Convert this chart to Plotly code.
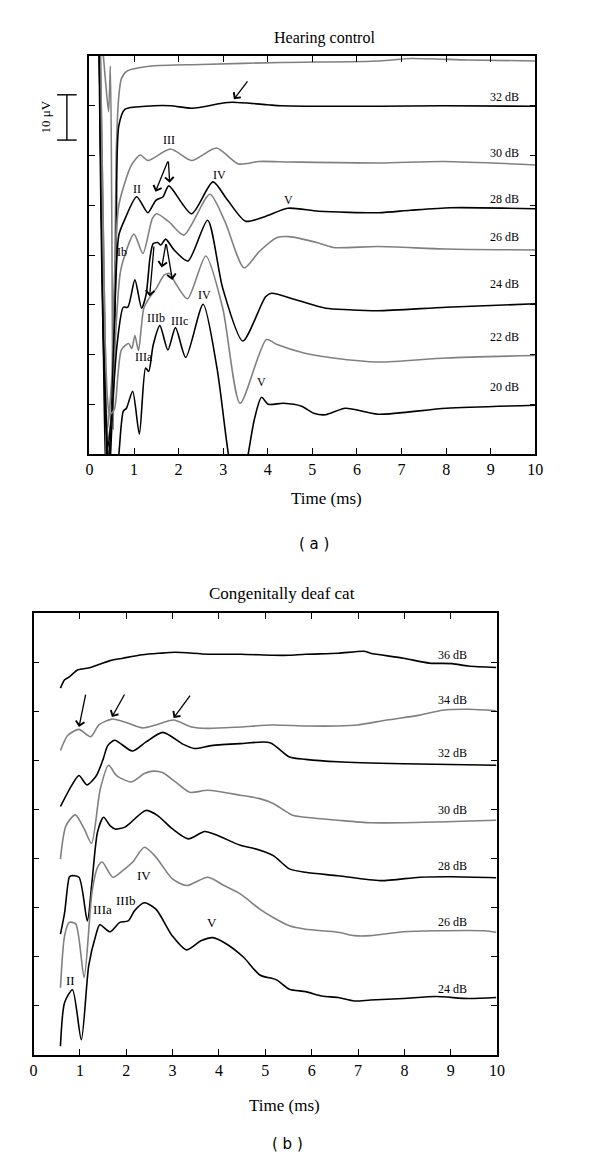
import plotly.graph_objects as go

# ---------------- Panel (a): Hearing control ----------------
hc_top_t = [0.22, 0.36, 0.43, 0.47, 0.50, 0.53, 0.56, 0.60, 0.66, 0.72, 0.85, 1.4, 2.5, 4.3, 6.5, 7.2, 8.5, 10]
hc_top_v = [9.0, 7.5, 6.88, 7.8, 5.0, 0.5, 2.5, 6.0, 7.2, 7.55, 7.7, 7.8, 7.83, 7.87, 7.9, 7.95, 7.92, 7.9]

hc32_t = [0.2, 0.3, 0.42, 0.52, 0.6, 0.66, 0.8, 1.27, 1.82, 2.3, 2.97, 3.2, 4.0, 4.3, 6.5, 7.95, 10]
hc32_v = [9.5, 4.0, -0.8, 1.0, 4.13, 6.6, 6.93, 6.99, 7.0, 6.95, 7.05, 7.07, 7.02, 7.0, 6.99, 7.0, 6.99]

hc30_t = [0.22, 0.32, 0.4, 0.5, 0.56, 0.66, 0.94, 1.14, 1.31, 1.82, 2.29, 2.85, 3.34, 3.8, 4.5, 6.5, 7.95, 10]
hc30_v = [9.5, 4.0, 0.5, 1.5, 3.5, 5.0, 5.8, 6.01, 5.9, 6.13, 5.9, 6.15, 5.83, 5.88, 5.87, 5.85, 5.88, 5.81]

hc28_t = [0.2, 0.3, 0.38, 0.48, 0.56, 0.66, 0.8, 1.06, 1.31, 1.49, 1.65, 1.78, 2.29, 2.77, 3.1, 3.5, 3.93, 4.45, 5.14, 6.49, 7.2, 8.1, 10]
hc28_v = [9.5, 3.0, -0.6, 0.5, 2.6, 4.4, 4.73, 5.17, 4.85, 5.1, 5.17, 5.39, 4.83, 5.47, 5.1, 4.68, 4.77, 4.94, 4.88, 4.85, 4.9, 4.95, 4.93]

hc26_t = [0.22, 0.33, 0.42, 0.52, 0.6, 0.71, 1.0, 1.2, 1.41, 1.51, 1.78, 2.12, 2.7, 3.04, 3.47, 3.81, 4.21, 4.47, 5.14, 5.47, 6.47, 8, 10]
hc26_v = [9.5, 3.5, 0.3, 1.0, 2.6, 3.73, 4.42, 4.03, 4.73, 4.83, 4.67, 4.4, 5.22, 4.67, 3.74, 4.07, 4.35, 4.37, 4.24, 4.15, 4.17, 4.12, 4.1]

hc24_t = [0.2, 0.3, 0.41, 0.5, 0.62, 0.76, 0.86, 1.02, 1.17, 1.27, 1.36, 1.43, 1.53, 1.6, 1.71, 1.9, 2.21, 2.65, 2.99, 3.44, 3.95, 4.08, 4.63, 5.3, 5.81, 6.47, 8, 10]
hc24_v = [9.5, 3.0, 0.12, 0.8, 2.2, 2.95, 2.95, 3.5, 2.93, 3.2, 3.95, 4.23, 4.25, 4.2, 4.32, 4.1, 3.88, 4.7, 3.33, 2.27, 3.16, 3.23, 3.1, 2.93, 2.9, 2.88, 2.95, 3.02]

hc22_t = [0.22, 0.33, 0.46, 0.56, 0.64, 0.72, 0.88, 0.95, 1.02, 1.1, 1.22, 1.36, 1.5, 1.68, 1.8, 1.92, 2.2, 2.61, 2.99, 3.38, 3.97, 4.21, 4.81, 5.47, 6.47, 8, 10]
hc22_v = [9.5, 3.0, 0.8, 0.9, 1.6, 2.1, 2.22, 2.12, 2.38, 2.08, 2.93, 3.16, 3.33, 3.6, 3.63, 3.45, 3.12, 3.98, 2.93, 1.02, 2.3, 2.2, 2.03, 1.93, 1.85, 1.93, 1.98]

hc20_t = [0.2, 0.32, 0.5, 0.65, 0.76, 0.83, 0.97, 1.12, 1.26, 1.33, 1.43, 1.58, 1.76, 1.93, 2.16, 2.55, 2.86, 3.1, 3.3, 3.52, 3.7, 3.86, 4.01, 4.35, 4.76, 5.03, 5.3, 5.74, 6.47, 8, 10]
hc20_v = [9.5, 2.0, -1.0, -0.1, 0.86, 0.92, 1.26, 0.4, 1.73, 1.66, 2.19, 2.58, 2.09, 2.54, 1.94, 3.01, 1.73, 0.1, -1.0, -0.2, 0.7, 1.14, 1.0, 1.02, 0.96, 0.82, 0.79, 0.92, 0.8, 0.92, 0.98]

hc_levels = ["32 dB", "30 dB", "28 dB", "26 dB", "24 dB", "22 dB", "20 dB"]
hc_level_v = [7.18, 6.05, 5.12, 4.36, 3.42, 2.35, 1.35]

hc_peaks = ["III", "II", "IV", "V", "Ib", "IIIb", "IIIc", "IV", "IIIa", "V"]
hc_peak_t = [1.78, 1.06, 2.92, 4.46, 0.74, 1.49, 2.03, 2.57, 1.22, 3.86]
hc_peak_v = [6.31, 5.33, 5.61, 5.10, 4.07, 2.74, 2.68, 3.20, 1.95, 1.45]

# arrows: (tip_t, tip_v, tail_t, tail_v)
hc_arrows = [
    (3.24, 7.13, 3.57, 7.52),
    (1.48, 5.27, 1.77, 5.91),
    (1.80, 5.45, 1.77, 5.91),
    (1.35, 3.17, 1.45, 4.20),
    (1.62, 3.75, 1.72, 4.25),
    (1.86, 3.50, 1.72, 4.25),
]

# ---------------- Panel (b): Congenitally deaf cat ----------------
dc36_t = [0.58, 0.67, 0.77, 0.95, 1.23, 1.65, 1.93, 2.35, 2.71, 3.06, 3.76, 4.46, 5.17, 5.52, 5.87, 6.57, 7.13, 7.27, 7.98, 8.54, 9.03, 9.38, 9.98]
dc36_v = [7.47, 7.64, 7.7, 7.84, 7.89, 8.03, 8.08, 8.15, 8.18, 8.2, 8.16, 8.16, 8.14, 8.14, 8.16, 8.18, 8.22, 8.18, 8.08, 7.98, 7.97, 7.92, 7.89]

dc34_t = [0.58, 0.74, 0.98, 1.23, 1.41, 1.69, 2.0, 2.35, 2.64, 3.02, 3.41, 3.76, 4.46, 5.17, 5.87, 6.57, 6.99, 7.62, 8.33, 8.82, 9.38, 9.98]
dc34_v = [6.2, 6.51, 6.63, 6.48, 6.72, 6.84, 6.77, 6.66, 6.72, 6.82, 6.68, 6.65, 6.68, 6.72, 6.7, 6.7, 6.72, 6.82, 6.92, 7.02, 7.04, 7.01]

dc32_t = [0.58, 0.83, 0.98, 1.15, 1.35, 1.5, 1.6, 1.75, 2.13, 2.42, 2.79, 3.22, 3.47, 3.83, 4.46, 5.1, 5.52, 5.87, 6.57, 7.98, 9.98]
dc32_v = [5.06, 5.5, 5.69, 5.5, 5.68, 6.02, 6.3, 6.41, 6.19, 6.37, 6.57, 6.33, 6.24, 6.3, 6.34, 6.36, 6.07, 6.02, 5.97, 5.93, 5.9]

dc30_t = [0.58, 0.7, 0.9, 1.09, 1.25, 1.44, 1.62, 1.79, 2.11, 2.39, 2.57, 2.78, 3.06, 3.37, 3.76, 4.46, 4.88, 5.17, 5.59, 5.87, 6.57, 7.27, 7.98, 9.98]
dc30_v = [3.99, 4.67, 4.89, 4.61, 4.31, 5.42, 5.9, 5.69, 5.56, 5.73, 5.78, 5.75, 5.56, 5.35, 5.39, 5.29, 5.22, 5.12, 4.88, 4.84, 4.78, 4.73, 4.73, 4.78]

dc28_t = [0.58, 0.67, 0.77, 0.81, 0.98, 1.16, 1.26, 1.38, 1.51, 1.65, 1.76, 1.97, 2.07, 2.42, 2.67, 2.99, 3.34, 3.69, 3.97, 4.46, 4.74, 5.17, 5.52, 5.87, 6.57, 7.48, 8.33, 9.03, 9.98]
dc28_v = [2.46, 2.9, 3.62, 3.65, 3.62, 2.73, 3.52, 4.54, 4.84, 4.67, 4.6, 4.64, 4.71, 4.98, 4.88, 4.61, 4.4, 4.55, 4.47, 4.27, 4.21, 4.06, 3.79, 3.72, 3.65, 3.55, 3.62, 3.63, 3.61]

dc26_t = [0.58, 0.67, 0.77, 0.91, 1.09, 1.26, 1.38, 1.48, 1.71, 1.93, 2.14, 2.39, 2.64, 2.99, 3.3, 3.76, 4.11, 4.46, 4.88, 5.17, 5.52, 5.87, 6.57, 6.92, 7.27, 7.98, 8.68, 9.73, 9.98]
dc26_v = [1.37, 2.43, 2.7, 2.67, 1.58, 3.31, 3.82, 3.93, 3.62, 3.76, 3.93, 4.23, 4.03, 3.59, 3.45, 3.62, 3.45, 3.28, 2.97, 2.8, 2.63, 2.56, 2.5, 2.43, 2.43, 2.51, 2.53, 2.53, 2.5]

dc24_t = [0.58, 0.67, 0.84, 1.03, 1.19, 1.34, 1.43, 1.65, 1.86, 2.04, 2.18, 2.39, 2.64, 2.99, 3.3, 3.62, 3.87, 4.11, 4.53, 4.88, 5.24, 5.52, 5.87, 6.22, 6.57, 6.92, 7.27, 7.98, 8.68, 9.38, 9.98]
dc24_v = [0.18, 1.07, 1.33, 0.31, 1.82, 2.43, 2.65, 2.51, 2.7, 2.73, 2.94, 3.1, 2.97, 2.43, 2.14, 2.33, 2.39, 2.29, 1.99, 1.63, 1.53, 1.34, 1.29, 1.2, 1.17, 1.1, 1.12, 1.15, 1.19, 1.15, 1.17]

dc_levels = ["36 dB", "34 dB", "32 dB", "30 dB", "28 dB", "26 dB", "24 dB"]
dc_level_v = [8.14, 7.23, 6.14, 4.98, 3.84, 2.71, 1.35]

dc_peaks = ["IV", "IIIb", "IIIa", "V", "II"]
dc_peak_t = [2.39, 2.0, 1.48, 3.84, 0.79]
dc_peak_v = [3.65, 3.14, 2.97, 2.69, 1.51]

dc_arrows = [
    (0.98, 6.68, 1.13, 7.37),
    (1.69, 6.88, 1.98, 7.37),
    (3.02, 6.86, 3.40, 7.35),
]

time_ticks = list(range(0, 11))

BLACK = "#000000"
GRAY = "#808080"
SERIF = "Liberation Serif"

fig = go.Figure()

hc_traces = [
    (hc_top_t, hc_top_v, GRAY), (hc32_t, hc32_v, BLACK), (hc30_t, hc30_v, GRAY),
    (hc28_t, hc28_v, BLACK), (hc26_t, hc26_v, GRAY), (hc24_t, hc24_v, BLACK),
    (hc22_t, hc22_v, GRAY), (hc20_t, hc20_v, BLACK),
]
for t, v, c in hc_traces:
    fig.add_trace(go.Scatter(x=t, y=v, mode="lines", xaxis="x", yaxis="y",
                             line=dict(color=c, width=1.6, shape="spline", smoothing=0.7),
                             showlegend=False, hoverinfo="skip"))

dc_traces = [
    (dc36_t, dc36_v, BLACK), (dc34_t, dc34_v, GRAY), (dc32_t, dc32_v, BLACK),
    (dc30_t, dc30_v, GRAY), (dc28_t, dc28_v, BLACK), (dc26_t, dc26_v, GRAY),
    (dc24_t, dc24_v, BLACK),
]
for t, v, c in dc_traces:
    fig.add_trace(go.Scatter(x=t, y=v, mode="lines", xaxis="x2", yaxis="y2",
                             line=dict(color=c, width=1.6, shape="spline", smoothing=0.7),
                             showlegend=False, hoverinfo="skip"))

ax_common = dict(showline=True, linecolor="black", linewidth=1.5, mirror="ticks",
                 ticks="inside", ticklen=6, tickwidth=1.2, tickcolor="black",
                 showgrid=False, zeroline=False, fixedrange=True)

fig.update_layout(
    width=600, height=1160,
    margin=dict(l=0, r=0, t=0, b=0),
    paper_bgcolor="white", plot_bgcolor="white",
    xaxis=dict(domain=[79 / 600, 534 / 600], range=[0, 10], tickvals=time_ticks,
               tickfont=dict(family=SERIF, size=16, color="black"), anchor="y", **ax_common),
    yaxis=dict(domain=[(1160 - 446) / 1160, (1160 - 48) / 1160], range=[0, 8],
               tickvals=list(range(1, 8)), showticklabels=False, anchor="x", **ax_common),
    xaxis2=dict(domain=[22 / 600, 495 / 600], range=[0, 10], tickvals=time_ticks,
                tickfont=dict(family=SERIF, size=16, color="black"), anchor="y2", **ax_common),
    yaxis2=dict(domain=[(1160 - 1047) / 1160, (1160 - 605) / 1160], range=[0, 9],
                tickvals=list(range(1, 9)), showticklabels=False, anchor="x2", **ax_common),
)

C = dict(xanchor="center", yanchor="middle", showarrow=False)
ann = []
# titles and axis titles
ann.append(dict(text="Hearing control", x=319 / 600, y=1 - 30 / 1160, xref="paper", yref="paper",
                font=dict(family=SERIF, size=16, color="black"), **C))
ann.append(dict(text="Congenitally deaf cat", x=276 / 600, y=1 - 585 / 1160, xref="paper", yref="paper",
                font=dict(family=SERIF, size=17, color="black"), **C))
ann.append(dict(text="Time (ms)", x=321 / 600, y=1 - 490 / 1160, xref="paper", yref="paper",
                font=dict(family=SERIF, size=17, color="black"), **C))
ann.append(dict(text="Time (ms)", x=278 / 600, y=1 - 1097 / 1160, xref="paper", yref="paper",
                font=dict(family=SERIF, size=17, color="black"), **C))
ann.append(dict(text="( a )", x=308 / 600, y=1 - 536 / 1160, xref="paper", yref="paper",
                font=dict(family="DejaVu Sans", size=15, color="black"), **C))
ann.append(dict(text="( b )", x=281 / 600, y=1 - 1136 / 1160, xref="paper", yref="paper",
                font=dict(family="DejaVu Sans", size=15, color="black"), **C))
ann.append(dict(text="10 μV", x=34 / 600, y=6.77, xref="paper", yref="y", textangle=-90,
                font=dict(family=SERIF, size=13, color="black"), **C))

for lab, v in zip(hc_levels, hc_level_v):
    ann.append(dict(text=lab, x=9.3, y=v, xref="x", yref="y",
                    font=dict(family=SERIF, size=12, color="black"), **C))
for lab, t, v in zip(hc_peaks, hc_peak_t, hc_peak_v):
    ann.append(dict(text=lab, x=t, y=v, xref="x", yref="y",
                    font=dict(family=SERIF, size=12, color="black"), **C))
for lab, v in zip(dc_levels, dc_level_v):
    ann.append(dict(text=lab, x=9.04, y=v, xref="x2", yref="y2",
                    font=dict(family=SERIF, size=12, color="black"), **C))
for lab, t, v in zip(dc_peaks, dc_peak_t, dc_peak_v):
    ann.append(dict(text=lab, x=t, y=v, xref="x2", yref="y2",
                    font=dict(family=SERIF, size=13, color="black"), **C))

for tx, ty, sx, sy in hc_arrows:
    ann.append(dict(text="", x=tx, y=ty, ax=sx, ay=sy, xref="x", yref="y", axref="x", ayref="y",
                    showarrow=True, arrowhead=4, arrowsize=1.3, arrowwidth=1.3, arrowcolor="black"))
for tx, ty, sx, sy in dc_arrows:
    ann.append(dict(text="", x=tx, y=ty, ax=sx, ay=sy, xref="x2", yref="y2", axref="x2", ayref="y2",
                    showarrow=True, arrowhead=4, arrowsize=1.3, arrowwidth=1.3, arrowcolor="black"))

fig.update_layout(annotations=ann)

# 10 uV scale bar
bar_x = 56 / 600
cap = 10 / 600
bar_lo, bar_hi = 6.31, 7.22
shapes = [
    dict(type="line", xref="paper", yref="y", x0=bar_x, x1=bar_x, y0=bar_lo, y1=bar_hi,
         line=dict(color="black", width=1.4)),
    dict(type="line", xref="paper", yref="y", x0=bar_x - cap, x1=bar_x + cap, y0=bar_lo, y1=bar_lo,
         line=dict(color="black", width=1.4)),
    dict(type="line", xref="paper", yref="y", x0=bar_x - cap, x1=bar_x + cap, y0=bar_hi, y1=bar_hi,
         line=dict(color="black", width=1.4)),
]
fig.update_layout(shapes=shapes)

fig.write_html("out.html")
